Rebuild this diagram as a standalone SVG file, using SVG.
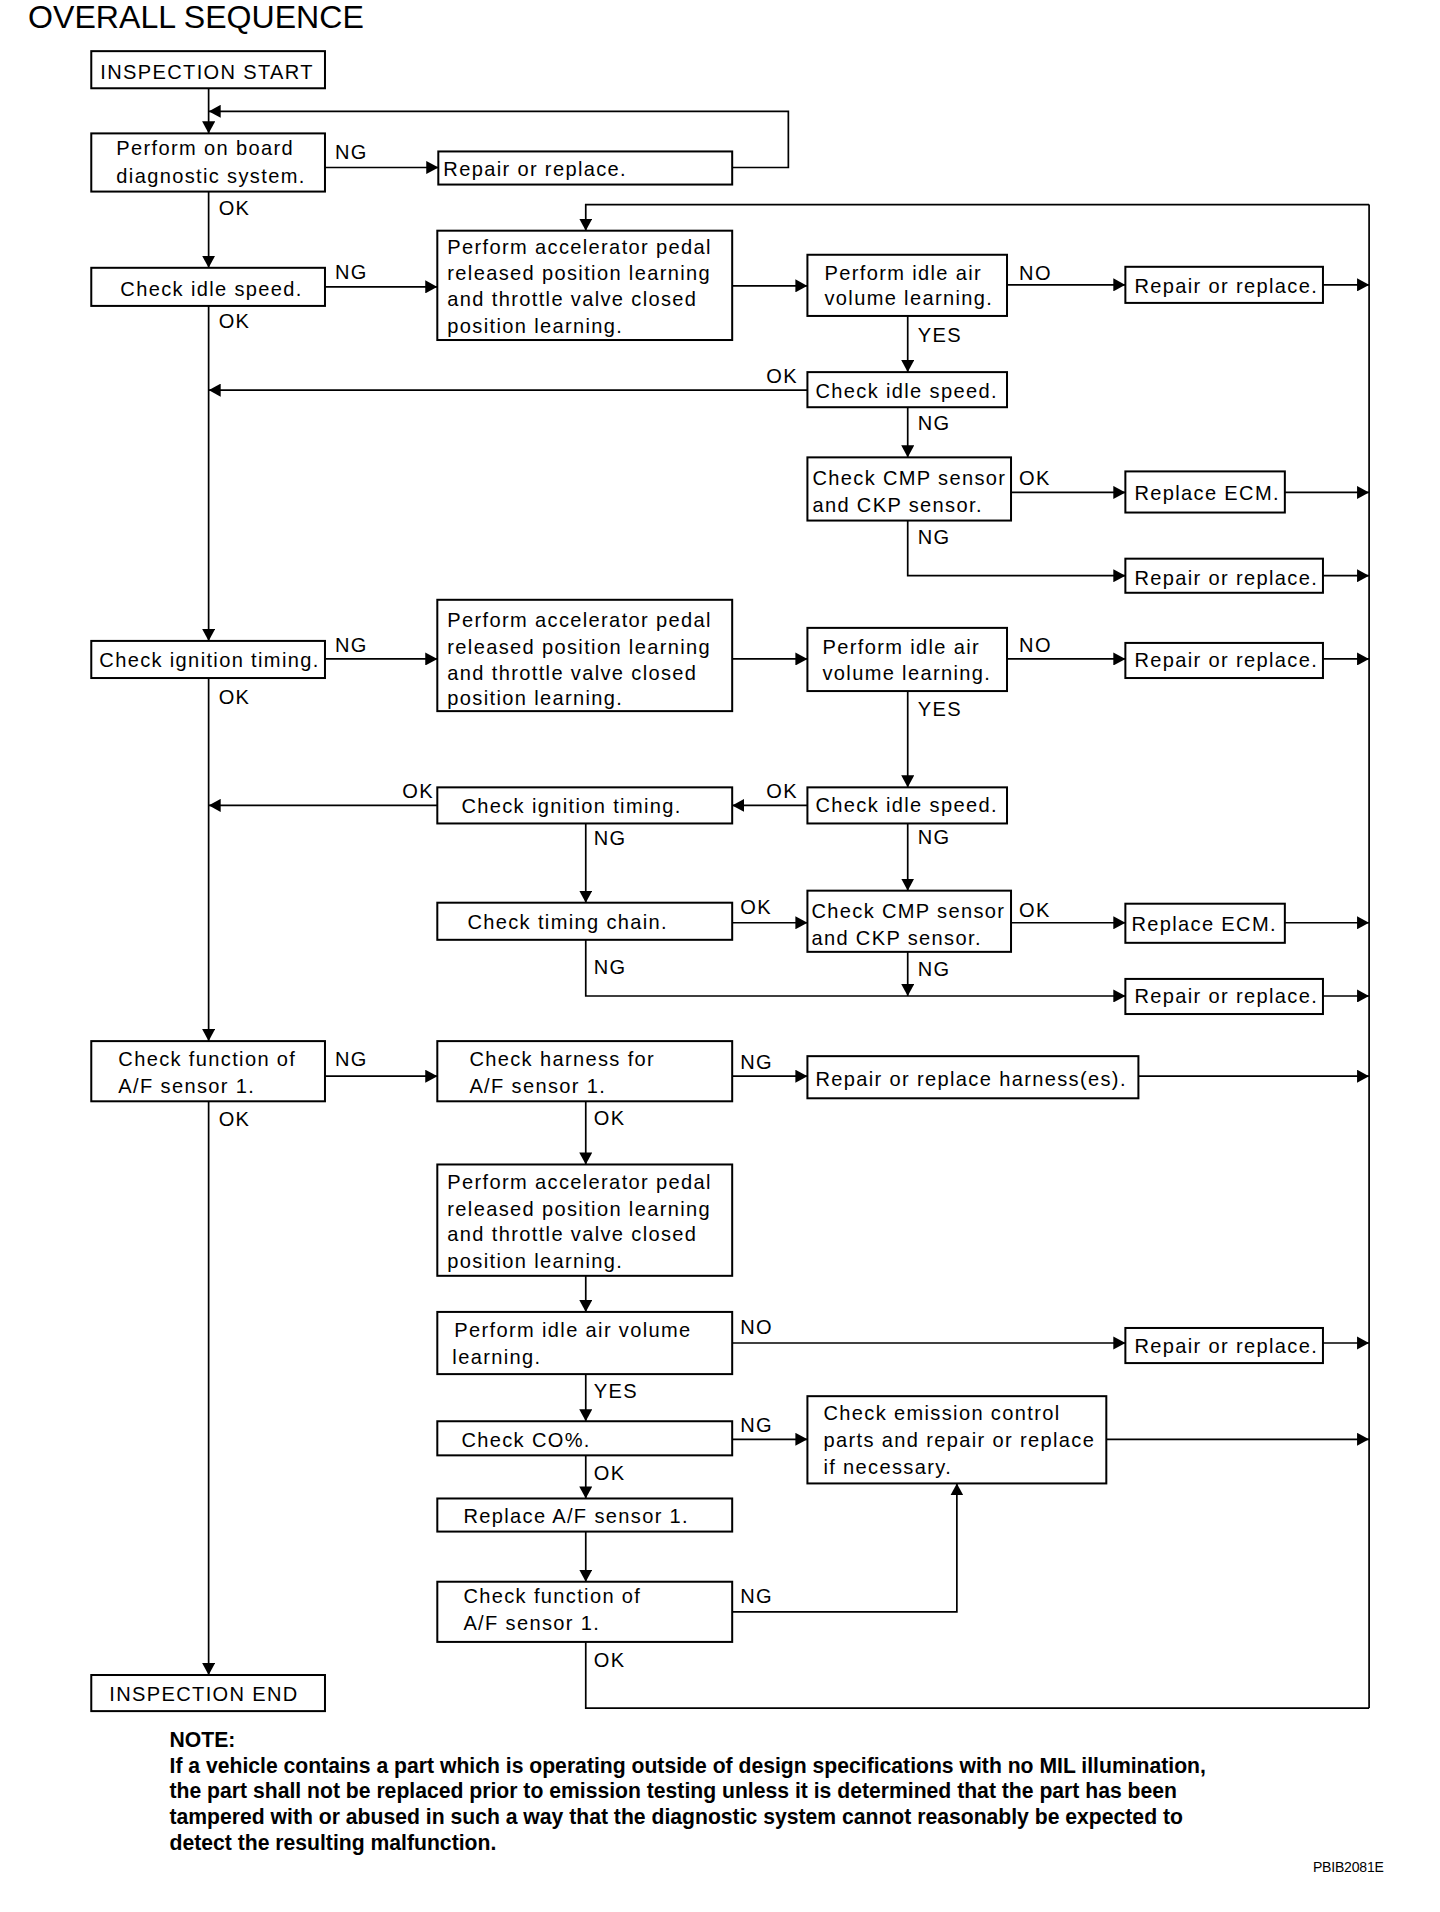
<svg xmlns="http://www.w3.org/2000/svg" width="1440" height="1912" viewBox="0 0 1440 1912">
<defs>
<marker id="ah" markerUnits="userSpaceOnUse" markerWidth="12" markerHeight="13" refX="12" refY="6.5" orient="auto"><path d="M0,0 L12,6.5 L0,13 z" fill="#000"/></marker>
<style>
.bx{fill:#fff;stroke:#000;stroke-width:2}
.t{font-family:"Liberation Sans",Arial,Helvetica,sans-serif;font-size:20px;letter-spacing:1.35px;fill:#000}
.ln{stroke:#000;stroke-width:1.7;fill:none}
.ar{stroke:#000;stroke-width:1.7;fill:none;marker-end:url(#ah)}
.nt{font-family:"Liberation Sans",Arial,Helvetica,sans-serif;font-size:21.1px;font-weight:bold;fill:#000}
</style>
</defs>
<rect width="1440" height="1912" fill="#fff"/>
<g transform="scale(1.003)">
<text x="28" y="28" style="font-family:'Liberation Sans',Arial,sans-serif;font-size:32px">OVERALL SEQUENCE</text>

<g id="connectors">
<path class="ar" d="M208,88 V133"/>
<path class="ar" d="M208,191 V267"/>
<path class="ar" d="M208,305 V639"/>
<path class="ar" d="M208,676 V1038"/>
<path class="ar" d="M208,1098 V1670"/>
<path class="ar" d="M324,167 H437"/>
<path class="ar" d="M730,167 H786 V111 H208"/>
<path class="ar" d="M324,286 H436"/>
<path class="ar" d="M730,285 H805"/>
<path class="ar" d="M1004,284 H1122"/>
<path class="ar" d="M1319,284 H1365"/>
<path class="ar" d="M905,315 V371"/>
<path class="ar" d="M805,389 H208"/>
<path class="ar" d="M905,406 V456"/>
<path class="ar" d="M1008,491 H1122"/>
<path class="ar" d="M1281,491 H1365"/>
<path class="ar" d="M905,519 V574 H1122"/>
<path class="ar" d="M1319,574 H1365"/>
<path class="ar" d="M324,657 H436"/>
<path class="ar" d="M730,657 H805"/>
<path class="ar" d="M1004,657 H1122"/>
<path class="ar" d="M1319,657 H1365"/>
<path class="ar" d="M905,689 V785"/>
<path class="ar" d="M805,803 H730"/>
<path class="ar" d="M436,803 H208"/>
<path class="ar" d="M584,821 V900"/>
<path class="ar" d="M905,821 V888"/>
<path class="ar" d="M730,920 H805"/>
<path class="ar" d="M1008,920 H1122"/>
<path class="ar" d="M1281,920 H1365"/>
<path class="ar" d="M584,937 V993 H1122"/>
<path class="ar" d="M905,949 V993"/>
<path class="ar" d="M1319,993 H1365"/>
<path class="ar" d="M324,1073 H436"/>
<path class="ar" d="M730,1073 H805"/>
<path class="ar" d="M1135,1073 H1365"/>
<path class="ar" d="M584,1098 V1161"/>
<path class="ar" d="M584,1272 V1308"/>
<path class="ar" d="M730,1339 H1122"/>
<path class="ar" d="M1319,1339 H1365"/>
<path class="ar" d="M584,1370 V1417"/>
<path class="ar" d="M730,1435 H805"/>
<path class="ar" d="M1103,1435 H1365"/>
<path class="ar" d="M584,1451 V1494"/>
<path class="ar" d="M584,1527 V1577"/>
<path class="ar" d="M730,1607 H954 V1479"/>
<path class="ln" d="M584,1637 V1703 H1365"/>
<path class="ln" d="M1365,204 V1703"/>
<path class="ar" d="M1365,204 H584 V230"/>
<g class="t">
<text x="334" y="159">NG</text>
<text x="218" y="214">OK</text>
<text x="334" y="278">NG</text>
<text x="218" y="327">OK</text>
<text x="1016" y="279">NO</text>
<text x="915" y="341">YES</text>
<text x="764" y="382">OK</text>
<text x="915" y="429">NG</text>
<text x="1016" y="484">OK</text>
<text x="915" y="542">NG</text>
<text x="334" y="650">NG</text>
<text x="218" y="702">OK</text>
<text x="1016" y="650">NO</text>
<text x="915" y="714">YES</text>
<text x="764" y="796">OK</text>
<text x="401" y="796">OK</text>
<text x="592" y="842">NG</text>
<text x="915" y="841">NG</text>
<text x="738" y="911">OK</text>
<text x="1016" y="914">OK</text>
<text x="915" y="973">NG</text>
<text x="592" y="971">NG</text>
<text x="334" y="1063">NG</text>
<text x="218" y="1123">OK</text>
<text x="738" y="1066">NG</text>
<text x="592" y="1122">OK</text>
<text x="738" y="1330">NO</text>
<text x="592" y="1394">YES</text>
<text x="738" y="1428">NG</text>
<text x="592" y="1476">OK</text>
<text x="738" y="1598">NG</text>
<text x="592" y="1662">OK</text>
</g>
</g>

<g id="n_start"><rect class="bx" x="91" y="51" width="233" height="37"/><text class="t" x="100" y="79">INSPECTION START</text></g>
<g id="n_obd"><rect class="bx" x="91" y="133" width="233" height="58"/><text class="t"><tspan x="116" y="155">Perform on board</tspan><tspan x="116" y="182">diagnostic system.</tspan></text></g>
<g id="n_rep1"><rect class="bx" x="437" y="151" width="293" height="33"/><text class="t" x="442" y="175">Repair or replace.</text></g>
<g id="n_idle1"><rect class="bx" x="91" y="267" width="233" height="38"/><text class="t" x="120" y="295">Check idle speed.</text></g>
<g id="n_apl1"><rect class="bx" x="436" y="230" width="294" height="109"/><text class="t"><tspan x="446" y="253">Perform accelerator pedal</tspan><tspan x="446" y="279">released position learning</tspan><tspan x="446" y="305">and throttle valve closed</tspan><tspan x="446" y="332">position learning.</tspan></text></g>
<g id="n_iav1"><rect class="bx" x="805" y="254" width="199" height="61"/><text class="t"><tspan x="822" y="279">Perform idle air</tspan><tspan x="822" y="304">volume learning.</tspan></text></g>
<g id="n_rep2"><rect class="bx" x="1122" y="266" width="197" height="36"/><text class="t" x="1131" y="292">Repair or replace.</text></g>
<g id="n_idle2"><rect class="bx" x="805" y="371" width="199" height="35"/><text class="t" x="813" y="397">Check idle speed.</text></g>
<g id="n_cmp1"><rect class="bx" x="805" y="456" width="203" height="63"/><text class="t"><tspan x="810" y="484">Check CMP sensor</tspan><tspan x="810" y="510">and CKP sensor.</tspan></text></g>
<g id="n_ecm1"><rect class="bx" x="1122" y="470" width="159" height="41"/><text class="t" x="1131" y="499">Replace ECM.</text></g>
<g id="n_rep3"><rect class="bx" x="1122" y="557" width="197" height="34"/><text class="t" x="1131" y="583">Repair or replace.</text></g>
<g id="n_ign1"><rect class="bx" x="91" y="639" width="233" height="37"/><text class="t" x="99" y="665">Check ignition timing.</text></g>
<g id="n_apl2"><rect class="bx" x="436" y="598" width="294" height="111"/><text class="t"><tspan x="446" y="625">Perform accelerator pedal</tspan><tspan x="446" y="652">released position learning</tspan><tspan x="446" y="678">and throttle valve closed</tspan><tspan x="446" y="703">position learning.</tspan></text></g>
<g id="n_iav2"><rect class="bx" x="805" y="626" width="199" height="63"/><text class="t"><tspan x="820" y="652">Perform idle air</tspan><tspan x="820" y="678">volume learning.</tspan></text></g>
<g id="n_rep4"><rect class="bx" x="1122" y="641" width="197" height="35"/><text class="t" x="1131" y="665">Repair or replace.</text></g>
<g id="n_idle3"><rect class="bx" x="805" y="785" width="199" height="36"/><text class="t" x="813" y="810">Check idle speed.</text></g>
<g id="n_ign2"><rect class="bx" x="436" y="785" width="294" height="36"/><text class="t" x="460" y="811">Check ignition timing.</text></g>
<g id="n_chain"><rect class="bx" x="436" y="900" width="294" height="37"/><text class="t" x="466" y="926">Check timing chain.</text></g>
<g id="n_cmp2"><rect class="bx" x="805" y="888" width="203" height="61"/><text class="t"><tspan x="809" y="915">Check CMP sensor</tspan><tspan x="809" y="942">and CKP sensor.</tspan></text></g>
<g id="n_ecm2"><rect class="bx" x="1122" y="901" width="159" height="39"/><text class="t" x="1128" y="928">Replace ECM.</text></g>
<g id="n_rep5"><rect class="bx" x="1122" y="976" width="197" height="35"/><text class="t" x="1131" y="1000">Repair or replace.</text></g>
<g id="n_af1"><rect class="bx" x="91" y="1038" width="233" height="60"/><text class="t"><tspan x="118" y="1063">Check function of</tspan><tspan x="118" y="1090">A/F sensor 1.</tspan></text></g>
<g id="n_harn"><rect class="bx" x="436" y="1038" width="294" height="60"/><text class="t"><tspan x="468" y="1063">Check harness for</tspan><tspan x="468" y="1090">A/F sensor 1.</tspan></text></g>
<g id="n_repharn"><rect class="bx" x="805" y="1053" width="330" height="42"/><text class="t" x="813" y="1083">Repair or replace harness(es).</text></g>
<g id="n_apl3"><rect class="bx" x="436" y="1161" width="294" height="111"/><text class="t"><tspan x="446" y="1185">Perform accelerator pedal</tspan><tspan x="446" y="1212">released position learning</tspan><tspan x="446" y="1237">and throttle valve closed</tspan><tspan x="446" y="1264">position learning.</tspan></text></g>
<g id="n_iav3"><rect class="bx" x="436" y="1308" width="294" height="62"/><text class="t"><tspan x="453" y="1333">Perform idle air volume</tspan><tspan x="451" y="1360">learning.</tspan></text></g>
<g id="n_rep6"><rect class="bx" x="1122" y="1324" width="197" height="35"/><text class="t" x="1131" y="1349">Repair or replace.</text></g>
<g id="n_co"><rect class="bx" x="436" y="1417" width="294" height="34"/><text class="t" x="460" y="1443">Check CO%.</text></g>
<g id="n_emis"><rect class="bx" x="805" y="1392" width="298" height="87"/><text class="t"><tspan x="821" y="1416">Check emission control</tspan><tspan x="821" y="1443">parts and repair or replace</tspan><tspan x="821" y="1470">if necessary.</tspan></text></g>
<g id="n_repaf"><rect class="bx" x="436" y="1494" width="294" height="33"/><text class="t" x="462" y="1518">Replace A/F sensor 1.</text></g>
<g id="n_af2"><rect class="bx" x="436" y="1577" width="294" height="60"/><text class="t"><tspan x="462" y="1598">Check function of</tspan><tspan x="462" y="1625">A/F sensor 1.</tspan></text></g>
<g id="n_end"><rect class="bx" x="91" y="1670" width="233" height="36"/><text class="t" x="109" y="1696">INSPECTION END</text></g>

<g id="note">
<text class="nt" x="169" y="1742">NOTE:</text>
<text class="nt" x="169" y="1768">If a vehicle contains a part which is operating outside of design specifications with no MIL illumination,</text>
<text class="nt" x="169" y="1793">the part shall not be replaced prior to emission testing unless it is determined that the part has been</text>
<text class="nt" x="169" y="1819">tampered with or abused in such a way that the diagnostic system cannot reasonably be expected to</text>
<text class="nt" x="169" y="1844">detect the resulting malfunction.</text>
</g>
<text x="1309" y="1866" style="font-family:'Liberation Sans',Arial,sans-serif;font-size:14px;letter-spacing:-0.2px">PBIB2081E</text>
</g>
</svg>
